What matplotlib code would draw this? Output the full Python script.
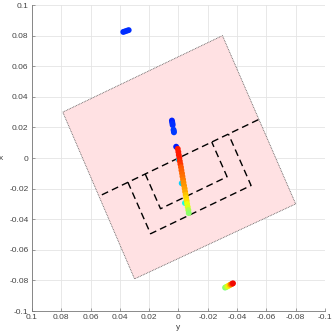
import numpy as np
import matplotlib

matplotlib.use("Agg")
import matplotlib.pyplot as plt
from matplotlib.patches import Polygon

plt.rcParams["font.family"] = ["Liberation Sans", "DejaVu Sans"]

# rotated square (region), corners in data coords (y-axis value, x-axis value)
square_h = [0.079, -0.030, -0.080, 0.030]
square_v = [0.030, 0.080, -0.030, -0.079]

# dashed outline in the square's local frame (a along side, b across)
rot_deg = -24.7
mid_a = [-0.06, 0.06]
mid_b = [0.0, 0.0]
outer_a = [0.038, 0.038, -0.0375, -0.0375]
outer_b = [0.0, -0.037, -0.037, 0.0]
inner_a = [0.025, 0.025, -0.025, -0.025]
inner_b = [0.0, -0.025, -0.025, 0.0]

# main track (horizontal = first coord, vertical = second), colour value on jet
track_h = [0.0005, 0.0001, -0.0002, -0.0006, -0.0009, -0.0013, -0.0017, -0.0020,
           -0.0024, -0.0027, -0.0031, -0.0034, -0.0038, -0.0042, -0.0045, -0.0049,
           -0.0052, -0.0056, -0.0059, -0.0063, -0.0067, -0.0070]
track_v = [0.006, 0.004, 0.002, 0.000, -0.002, -0.004, -0.006, -0.008,
           -0.010, -0.012, -0.014, -0.016, -0.018, -0.020, -0.022, -0.024,
           -0.026, -0.028, -0.030, -0.032, -0.034, -0.036]
track_c = [0.88, 0.88, 0.88, 0.88, 0.86, 0.85, 0.82, 0.81,
           0.80, 0.79, 0.78, 0.76, 0.75, 0.74, 0.73, 0.70,
           0.68, 0.67, 0.64, 0.62, 0.56, 0.52]

# small points hidden under the track
under_h = [0.0016, -0.0002, -0.0022, -0.0044]
under_v = [0.0074, -0.0010, -0.0165, -0.0294]
under_c = [0.15, 0.33, 0.33, 0.38]

# blue clusters
blue_h = [0.0377, 0.0365, 0.0352, 0.0340,
          0.0045, 0.0043, 0.0041, 0.0040, 0.0034, 0.0032, 0.0031]
blue_v = [0.0824, 0.0828, 0.0832, 0.0836,
          0.0245, 0.0235, 0.0225, 0.0215, 0.0185, 0.0175, 0.0168]
blue_c = [0.17, 0.17, 0.17, 0.17, 0.16, 0.16, 0.17, 0.17, 0.18, 0.18, 0.18]

# lower-right cluster
low_h = [-0.0318, -0.0326, -0.0334, -0.0342, -0.0350, -0.0358, -0.0366, -0.0372]
low_v = [-0.0847, -0.0843, -0.0839, -0.0835, -0.0830, -0.0826, -0.0822, -0.0819]
low_c = [0.50, 0.55, 0.60, 0.65, 0.70, 0.78, 0.85, 0.90]

ticks = [0.1, 0.08, 0.06, 0.04, 0.02, 0, -0.02, -0.04, -0.06, -0.08, -0.1]
tick_labels = ["0.1", "0.08", "0.06", "0.04", "0.02", "0",
               "-0.02", "-0.04", "-0.06", "-0.08", "-0.1"]


def to_data(a, b):
    t = np.deg2rad(rot_deg)
    a = np.asarray(a)
    b = np.asarray(b)
    return a * np.cos(t) - b * np.sin(t), a * np.sin(t) + b * np.cos(t)


fig = plt.figure(figsize=(3.32, 3.35), dpi=100)
ax = fig.add_axes([0.0964, 0.0716, 0.8825, 0.9134])

ax.add_patch(Polygon(np.column_stack([square_h, square_v]), closed=True,
                     facecolor="#ffe1e3", edgecolor="#555555",
                     linewidth=0.6, linestyle=(0, (1, 1)), zorder=1))

for a, b in [(mid_a, mid_b), (outer_a, outer_b), (inner_a, inner_b)]:
    h, v = to_data(a, b)
    ax.plot(h, v, color="black", linewidth=1.0, dashes=(5, 3), zorder=2)

cmap = plt.get_cmap("jet")
kw = dict(s=18, cmap=cmap, vmin=0, vmax=1, linewidths=0, zorder=3)
ax.scatter(under_h, under_v, c=under_c, **kw)
ax.scatter(track_h, track_v, c=track_c, **kw)
ax.scatter(blue_h, blue_v, c=blue_c, **kw)
ax.scatter(low_h, low_v, c=low_c, **kw)

ax.set_xlim(0.1, -0.1)
ax.set_ylim(-0.1, 0.1)
ax.set_xticks(ticks)
ax.set_xticklabels(tick_labels)
ax.set_yticks(ticks)
ax.set_yticklabels(tick_labels)
ax.grid(True, color="#e4e4e4", linewidth=0.6)
ax.set_axisbelow(True)

for side in ["top", "right"]:
    ax.spines[side].set_visible(False)
for side in ["left", "bottom"]:
    ax.spines[side].set_color("#777777")
    ax.spines[side].set_linewidth(0.6)
ax.tick_params(direction="in", length=2.5, width=0.5, colors="#777777",
               labelsize=6, labelcolor="#444444", pad=2.5)

ax.set_xlabel("y", fontsize=6, color="#444444", labelpad=2)
ax.set_ylabel("x", fontsize=6, color="#444444", rotation=0, labelpad=6,
              va="center")

fig.savefig("out.png", dpi=100)
